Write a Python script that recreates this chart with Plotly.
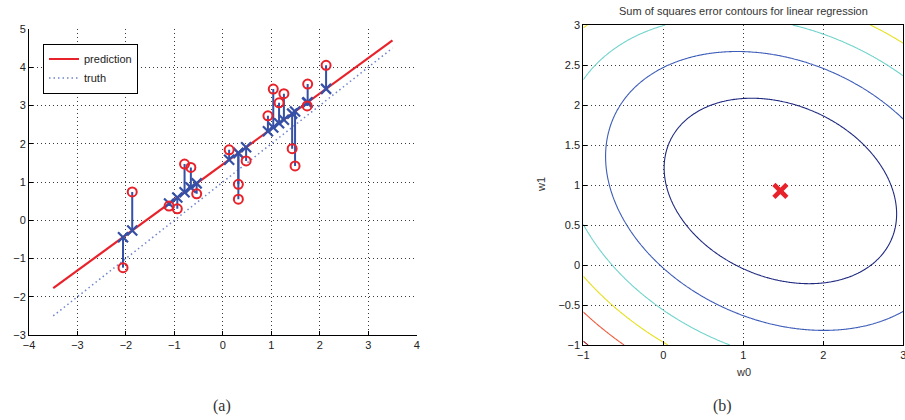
import numpy as np
import plotly.graph_objects as go

# ---------------- data ----------------
x_obs = [-2.06, -1.87, -1.11, -0.94, -0.79, -0.66, -0.54, 0.13, 0.32, 0.32,
         0.48, 0.93, 1.04, 1.16, 1.26, 1.43, 1.49, 1.74, 1.75, 2.13]
y_obs = [-1.24, 0.74, 0.37, 0.30, 1.47, 1.38, 0.69, 1.84, 0.94, 0.55,
         1.55, 2.73, 3.43, 3.07, 3.31, 1.87, 1.42, 2.99, 3.56, 4.05]
true_w = [1.0, 1.0]            # intercept, slope of the "truth" line
line_x = [-3.5, 3.5]           # extent of the drawn lines
sse_levels = [50, 100, 150, 200, 250, 300]
level_colors = ["#202a80", "#3d5cb8", "#6fd3cc", "#e6df1c", "#ef5a3a", "#9a1a1a"]
left_xticks = [-4, -3, -2, -1, 0, 1, 2, 3, 4]
left_yticks = [-3, -2, -1, 0, 1, 2, 3, 4, 5]
right_xticks = [-1, 0, 1, 2, 3]
right_yticks = [-1, -0.5, 0, 0.5, 1, 1.5, 2, 2.5, 3]

# ---------------- model fit ----------------
xa = np.array(x_obs)
ya = np.array(y_obs)
w1_hat, w0_hat = np.polyfit(xa, ya, 1)
pred = w0_hat + w1_hat * xa
lx = np.array(line_x)

stem_x, stem_y = [], []
for xi, pi, yi in zip(xa, pred, ya):
    stem_x += [xi, xi, None]
    stem_y += [pi, yi, None]

# SSE surface
w0g = np.linspace(-1, 3, 241)
w1g = np.linspace(-1, 3, 241)
W0, W1 = np.meshgrid(w0g, w1g)
SSE = ((ya[None, None, :] - W0[..., None] - W1[..., None] * xa[None, None, :]) ** 2).sum(-1)

RED = "#e8222a"
BLUE = "#3650a6"
FONT = "Liberation Sans, Arial, sans-serif"
SERIF = "Liberation Serif, DejaVu Serif, serif"

fig = go.Figure()

# truth (dotted)
fig.add_trace(go.Scatter(x=lx, y=true_w[0] + true_w[1] * lx, mode="lines",
                         line=dict(color="#6f84cc", width=1.5, dash="1.5px,3px"),
                         name="truth", xaxis="x", yaxis="y", legendrank=2))
# prediction
fig.add_trace(go.Scatter(x=lx, y=w0_hat + w1_hat * lx, mode="lines",
                         line=dict(color=RED, width=2.2),
                         name="prediction", xaxis="x", yaxis="y", legendrank=1))
# stems
fig.add_trace(go.Scatter(x=stem_x, y=stem_y, mode="lines",
                         line=dict(color=BLUE, width=2), showlegend=False,
                         xaxis="x", yaxis="y", hoverinfo="skip"))
# predicted points
fig.add_trace(go.Scatter(x=xa, y=pred, mode="markers",
                         marker=dict(symbol="x-thin", size=10, line=dict(color=BLUE, width=2.2)),
                         showlegend=False, xaxis="x", yaxis="y"))
# observed points
fig.add_trace(go.Scatter(x=xa, y=ya, mode="markers",
                         marker=dict(symbol="circle-open", size=9, color=RED, line=dict(color=RED, width=2)),
                         showlegend=False, xaxis="x", yaxis="y"))

# contours
n = len(level_colors)
cscale = [[i / (n - 1), c] for i, c in enumerate(level_colors)]
fig.add_trace(go.Contour(x=w0g, y=w1g, z=SSE, xaxis="x2", yaxis="y2",
                         contours=dict(coloring="lines", start=sse_levels[0], end=sse_levels[-1],
                                       size=sse_levels[1] - sse_levels[0]),
                         colorscale=cscale, zauto=False, zmin=sse_levels[0], zmax=sse_levels[-1],
                         line=dict(width=1.1), showscale=False, showlegend=False, hoverinfo="skip"))
fig.add_trace(go.Scatter(x=[w0_hat], y=[w1_hat], mode="markers", xaxis="x2", yaxis="y2",
                         marker=dict(symbol="x-thin", size=13, line=dict(color=RED, width=4.5)),
                         showlegend=False))

axis_common = dict(showgrid=True, gridcolor="#3a3a3a", griddash="1px,3px", gridwidth=1,
                   ticks="inside", ticklen=4, tickcolor="black", linecolor="black",
                   linewidth=1, showline=True, zeroline=False, automargin=False,
                   ticklabeloverflow="allow",
                   tickfont=dict(family=FONT, size=11, color="#222222"))

W, H = 905, 420


def note(text, x, y, size=11, family=FONT, angle=0):
    return dict(text=text, x=x / W, y=1 - y / H, xref="paper", yref="paper", showarrow=False,
                xanchor="center", yanchor="middle", textangle=angle,
                font=dict(size=size, family=family, color="#333333"))


fig.update_layout(
    template="none",
    width=W, height=H, margin=dict(l=0, r=0, t=0, b=0, pad=0),
    paper_bgcolor="white", plot_bgcolor="white",
    font=dict(family=FONT, size=11, color="#222222"),
    xaxis=dict(axis_common, domain=[29 / W, 416.7 / W], range=[-4, 4], tickvals=left_xticks,
               anchor="y"),
    yaxis=dict(axis_common, domain=[1 - 335 / H, 1 - 29 / H], range=[-3, 5], tickvals=left_yticks,
               anchor="x"),
    xaxis2=dict(axis_common, domain=[583.3 / W, 903.3 / W], range=[-1, 3], tickvals=right_xticks,
                anchor="y2", mirror=True),
    yaxis2=dict(axis_common, domain=[1 - 345 / H, 1 - 25 / H], range=[-1, 3], tickvals=right_yticks,
                anchor="x2", mirror=True),
    legend=dict(x=43 / W, y=1 - 43.5 / H, xanchor="left", yanchor="top",
                bordercolor="black", borderwidth=1, bgcolor="white",
                font=dict(family=FONT, size=11, color="#222222"),
                tracegroupgap=0, itemwidth=30),
    showlegend=True,
    annotations=[
        note("Sum of squares error contours for linear regression", 743, 11),
        note("w0", 743, 372),
        note("w1", 541, 185, angle=-90),
        note("(a)", 222, 406, size=16, family=SERIF),
        note("(b)", 722, 406, size=16, family=SERIF),
    ],
)

fig.write_html("out.html", config={"displayModeBar": False},
               post_script="document.body.style.margin='0px';")
